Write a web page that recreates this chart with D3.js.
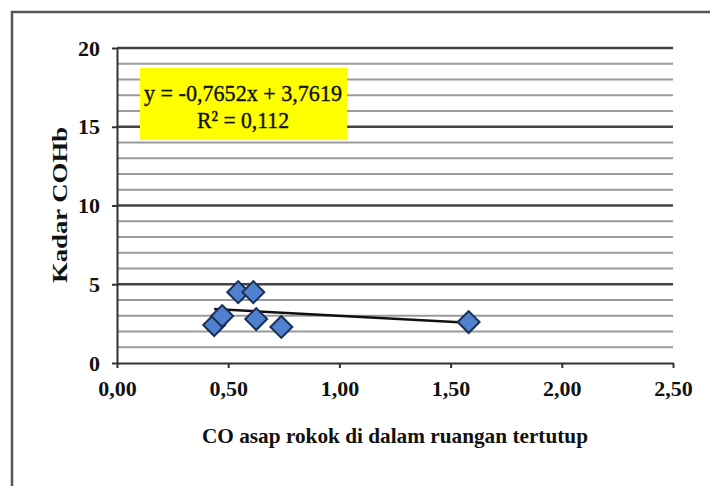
<!DOCTYPE html>
<html>
<head>
<meta charset="utf-8">
<script src="https://cdn.jsdelivr.net/npm/d3@7"></script>
<style>
  body { margin: 0; background: #fff; }
  svg { display: block; }
  .axis text { font-family: "Liberation Serif", "DejaVu Serif", serif; font-weight: bold; font-size: 22px; fill: #111; }
  .axis path, .axis line { stroke: #333; stroke-width: 2; }
</style>
</head>
<body>
<div id="chart"></div>
<script>
// Data
const coValues   = [0.437, 0.473, 0.545, 0.613, 0.626, 0.739, 1.581];
const cohbValues = [2.41, 2.98, 4.5, 4.5, 2.79, 2.29, 2.6];
const xTicks = [0, 0.5, 1, 1.5, 2, 2.5];
const yTicks = [0, 5, 10, 15, 20];
const gridValues = d3.range(1, 21);
const trendSlope = -0.7652;
const trendIntercept = 3.7619;
const equationLines = ["y = -0,7652x + 3,7619", "R² = 0,112"];
const xTitle = "CO asap rokok di dalam ruangan tertutup";
const yTitle = "Kadar COHb";

const width = 710, height = 486;
const margin = {top: 48, right: 37, bottom: 123, left: 117};
const innerW = width - margin.left - margin.right;
const innerH = height - margin.top - margin.bottom;

const locale = d3.formatLocale({decimal: ",", thousands: ".", grouping: [3], currency: ["", ""]});

const svg = d3.select("#chart").append("svg")
    .attr("width", width)
    .attr("height", height);

// outer frame
svg.append("path")
    .attr("d", `M12,${height} L12,12 L${width},12`)
    .attr("fill", "none")
    .attr("stroke", "#555")
    .attr("stroke-width", 2.5);

const chart = svg.append("g")
    .attr("transform", `translate(${margin.left},${margin.top})`);

const xScale = d3.scaleLinear().domain([0, 2.5]).range([0, innerW]);
const yScale = d3.scaleLinear().domain([0, 20]).range([innerH, 0]);

// horizontal gridlines, darker at the labelled values
chart.append("g").selectAll("line")
    .data(gridValues)
    .join("line")
    .attr("x1", 0)
    .attr("x2", innerW)
    .attr("y1", d => yScale(d))
    .attr("y2", d => yScale(d))
    .attr("stroke", d => d % 5 === 0 ? "#444" : "#9a9a9a")
    .attr("stroke-width", d => d % 5 === 0 ? 2.5 : 2);

// axes
const xAxis = d3.axisBottom(xScale)
    .tickValues(xTicks)
    .tickFormat(locale.format(".2f"))
    .tickSize(5)
    .tickSizeOuter(0)
    .tickPadding(12);

const yAxis = d3.axisLeft(yScale)
    .tickValues(yTicks)
    .tickSize(5)
    .tickSizeOuter(0)
    .tickPadding(12);

chart.append("g")
    .attr("class", "axis x-axis")
    .attr("transform", `translate(0,${innerH})`)
    .call(xAxis);

chart.append("g")
    .attr("class", "axis y-axis")
    .call(yAxis);

// trendline between smallest and largest x
const xExtent = d3.extent(coValues);
chart.append("line")
    .attr("x1", xScale(xExtent[0]))
    .attr("x2", xScale(xExtent[1]))
    .attr("y1", yScale(trendSlope * xExtent[0] + trendIntercept))
    .attr("y2", yScale(trendSlope * xExtent[1] + trendIntercept))
    .attr("stroke", "#111")
    .attr("stroke-width", 2.5);

// diamond markers
const points = coValues.map((x, i) => ({x: x, y: cohbValues[i]}));
const diamond = d3.symbol().type(d3.symbolSquare).size(240);
chart.append("g").selectAll("path")
    .data(points)
    .join("path")
    .attr("d", diamond)
    .attr("transform", d => `translate(${xScale(d.x)},${yScale(d.y)}) rotate(45)`)
    .attr("fill", "#4f81cf")
    .attr("stroke", "#1b2f55")
    .attr("stroke-width", 2);

// equation box
svg.append("rect")
    .attr("x", 140)
    .attr("y", 68)
    .attr("width", 207)
    .attr("height", 72)
    .attr("fill", "#ffff00");

svg.append("g").selectAll("text")
    .data(equationLines)
    .join("text")
    .attr("x", 243)
    .attr("y", (d, i) => 101 + i * 27)
    .attr("text-anchor", "middle")
    .attr("font-family", "Liberation Serif, DejaVu Serif, serif")
    .attr("font-size", 24)
    .attr("fill", "#111")
    .attr("stroke", "#111")
    .attr("stroke-width", 0.4)
    .attr("textLength", (d, i) => i === 0 ? 198 : 92)
    .attr("lengthAdjust", "spacingAndGlyphs")
    .text(d => d);

// axis titles
svg.append("text")
    .attr("x", 395)
    .attr("y", 443)
    .attr("text-anchor", "middle")
    .attr("font-family", "Liberation Serif, DejaVu Serif, serif")
    .attr("font-weight", "bold")
    .attr("font-size", 21)
    .attr("fill", "#111")
    .attr("textLength", 386)
    .attr("lengthAdjust", "spacingAndGlyphs")
    .text(xTitle);

svg.append("text")
    .attr("transform", "translate(67,205) rotate(-90)")
    .attr("text-anchor", "middle")
    .attr("font-family", "Liberation Serif, DejaVu Serif, serif")
    .attr("font-weight", "bold")
    .attr("font-size", 21)
    .attr("fill", "#111")
    .attr("textLength", 156)
    .attr("lengthAdjust", "spacingAndGlyphs")
    .text(yTitle);
</script>
</body>
</html>
